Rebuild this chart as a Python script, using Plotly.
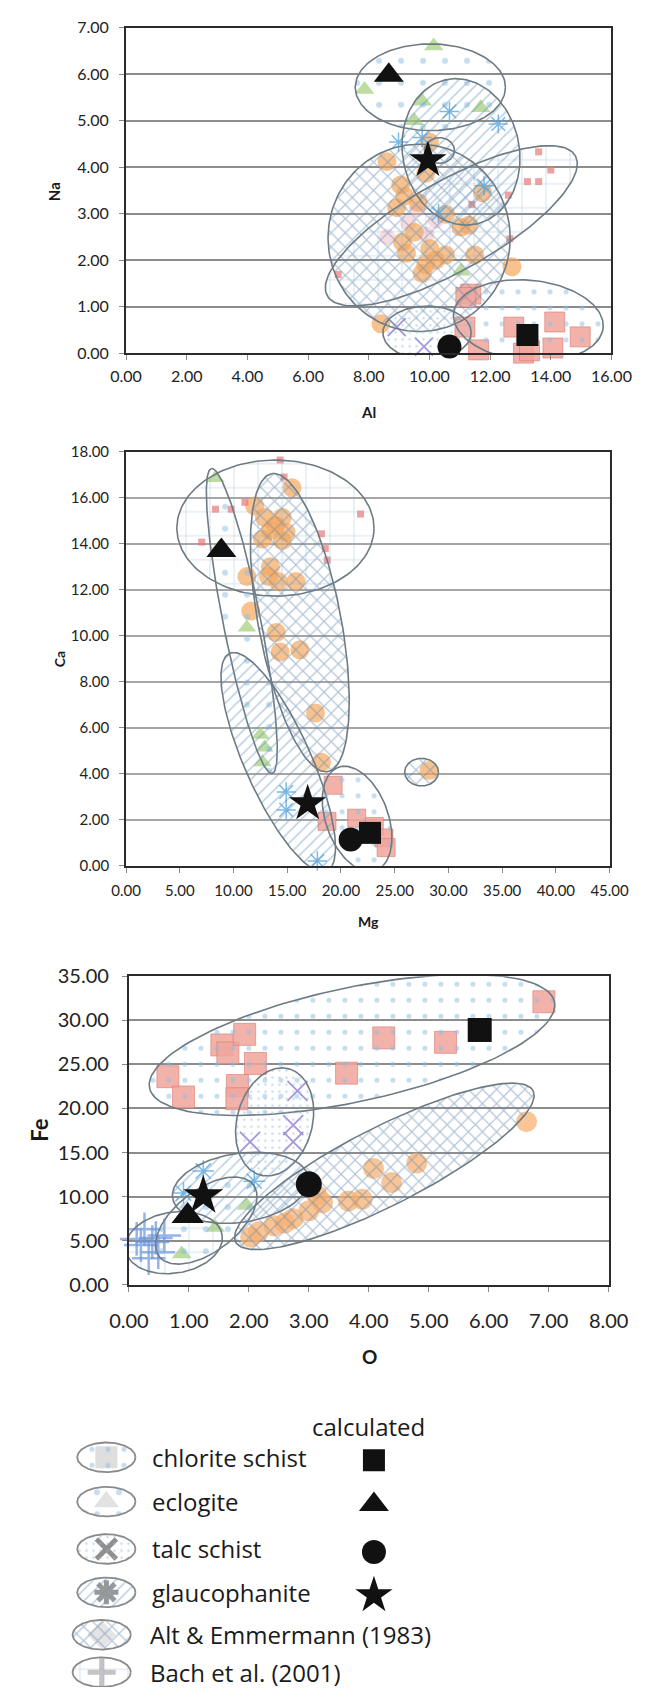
import numpy as np
import plotly.graph_objects as go

W, H = 654, 1698

# ---------------- chart 1 : Al vs Na ----------------
t_orange_x = [8.6, 10.0, 9.88, 9.05, 9.18, 8.92, 9.63, 10.53, 11.04, 11.3, 9.11, 9.24, 10.01, 10.53, 9.88, 9.76, 11.49, 11.75, 12.72, 8.4, 10.2, 9.5]
t_orange_y = [4.12, 4.54, 3.87, 3.62, 3.38, 3.13, 3.24, 2.99, 2.71, 2.75, 2.39, 2.15, 2.25, 2.11, 1.9, 1.72, 2.11, 3.45, 1.86, 0.63, 2.0, 2.6]
t_pinkc_x = [8.6, 9.3, 9.9, 10.2, 9.6]
t_pinkc_y = [2.5, 2.8, 2.55, 2.85, 3.1]
t_chl_x = [11.36, 11.17, 12.78, 14.13, 14.97, 14.07, 13.1, 11.62, 13.3, 11.2]
t_chl_y = [1.27, 0.56, 0.56, 0.67, 0.35, 0.11, 0.0, 0.07, 0.05, 1.2]
t_bach_x = [13.6, 14.0, 13.23, 13.6, 12.6, 6.99, 12.65, 11.4]
t_bach_y = [4.33, 3.94, 3.69, 3.69, 3.4, 1.69, 2.46, 3.2]
t_ecl_x = [10.14, 7.86, 9.76, 11.69, 9.5, 11.04]
t_ecl_y = [6.61, 5.67, 5.42, 5.28, 5.0, 1.76]
t_gla_x = [12.27, 8.98, 9.76, 10.66, 11.8, 10.3]
t_gla_y = [4.93, 4.54, 4.64, 5.2, 3.6, 3.0]
t_talc_x = [9.82, 8.92]
t_talc_y = [0.14, 0.56]
t_calc_x = [13.23, 8.66, 10.66, 9.95]   # square, triangle, circle, star
t_calc_y = [0.39, 5.98, 0.14, 4.15]
# region ellipses: group, centre x, centre y, semi-axes (px), angle (deg)
t_ell_grp = ["eclogite", "glaucophanite", "small", "alt", "bach", "chlorite", "talc"]
t_ell_cx = [10.03, 11.04, 10.33, 9.66, 10.72, 13.26, 9.92]
t_ell_cy = [5.72, 4.33, 4.36, 2.48, 2.74, 0.70, 0.44]
t_ell_a = [80, 75, 16, 97, 150, 80, 47]
t_ell_b = [44, 62, 13, 95, 46, 41, 27]
t_ell_ang = [0, 104, 0, 0, 28, -5, 0]

# ---------------- chart 2 : Mg vs Ca ----------------
m_orange_x = [15.44, 11.97, 12.88, 14.53, 13.43, 14.89, 12.7, 14.53, 11.24, 13.43, 14.16, 15.8, 13.25, 13.98, 14.34, 16.17, 11.6, 17.63, 18.18, 28.2, 13.9]
m_orange_y = [16.43, 15.64, 15.14, 15.14, 14.57, 14.5, 14.2, 14.14, 12.57, 13.0, 12.36, 12.36, 12.57, 10.14, 9.29, 9.39, 11.07, 6.64, 4.5, 4.14, 14.8]
m_ecl_x = [8.32, 8.69, 11.24, 12.5, 12.88, 12.7]
m_ecl_y = [16.86, 13.86, 10.36, 5.7, 5.14, 4.5]
m_bach_x = [14.34, 8.32, 11.06, 21.82, 18.18, 7.04, 18.54, 18.72, 9.78, 14.7]
m_bach_y = [17.64, 15.5, 15.8, 15.29, 14.43, 14.07, 13.79, 13.29, 15.5, 16.9]
m_chl_x = [19.27, 21.46, 23.1, 24.0, 24.2, 18.7]
m_chl_y = [3.5, 2.07, 1.71, 1.21, 0.79, 1.93]
m_gla_x = [14.9, 14.9, 17.8]
m_gla_y = [3.21, 2.43, 0.21]
m_calc_x = [22.7, 8.87, 20.9, 16.9]
m_calc_y = [1.43, 13.71, 1.14, 2.71]
m_ell_grp = ["bach", "eclogite", "alt", "glaucophanite", "chlorite", "alt"]
m_ell_cx = [13.9, 10.77, 16.17, 14.16, 21.5, 27.5]
m_ell_cy = [14.68, 10.64, 10.57, 4.5, 2.04, 4.07]
m_ell_a = [105, 158, 154, 122, 56, 18]
m_ell_b = [69, 20, 44, 35, 33, 14]
m_ell_ang = [0, 101.8, 101.3, 115.3, 112, 0]

# ---------------- chart 3 : O vs Fe ----------------
b_chl_x = [0.65, 0.91, 1.55, 1.65, 1.93, 2.11, 1.81, 1.8, 3.63, 4.25, 5.28, 6.92]
b_chl_y = [23.6, 21.3, 27.2, 26.3, 28.4, 25.1, 22.6, 21.1, 24.0, 28.0, 27.5, 32.1]
b_talc_x = [2.02, 2.74, 2.74, 2.81]
b_talc_y = [16.2, 18.1, 16.2, 22.0]
b_orange_x = [6.63, 4.08, 4.8, 4.38, 3.89, 3.66, 3.23, 3.0, 2.74, 2.42, 2.16, 2.03, 3.14, 2.6]
b_orange_y = [18.5, 13.2, 13.8, 11.6, 9.7, 9.5, 9.3, 8.4, 7.5, 6.7, 6.0, 5.4, 10.1, 7.0]
b_gla_x = [1.24, 0.91, 2.09]
b_gla_y = [12.9, 10.4, 11.75]
b_ecl_x = [1.44, 1.96, 0.88]
b_ecl_y = [6.5, 9.0, 3.5]
b_bach_x = [0.26, 0.39, 0.2, 0.49, 0.13, 0.59, 0.33, 0.45]
b_bach_y = [6.3, 4.85, 4.5, 3.7, 5.2, 5.6, 3.0, 5.3]
b_calc_x = [5.85, 0.98, 3.0, 1.24]
b_calc_y = [28.9, 7.8, 11.4, 10.1]
b_ell_grp = ["chlorite", "talc", "alt", "glaucophanite", "eclogite", "bach"]
b_ell_cx = [3.72, 2.43, 4.26, 1.86, 1.29, 0.75]
b_ell_cy = [27.2, 18.47, 13.43, 11.0, 7.28, 4.78]
b_ell_a = [220, 56, 176, 73, 62, 52]
b_ell_b = [58, 40, 40, 35, 32, 31]
b_ell_ang = [11.4, 73, 25.7, 8, 35, 8]

legend_labels = ["chlorite schist", "eclogite", "talc schist", "glaucophanite",
                 "Alt & Emmermann (1983)", "Bach et al. (2001)"]
legend_groups = ["chlorite", "eclogite", "talc", "glaucophanite", "alt", "bach"]
calc_symbols = ["square", "triangle-up", "circle", "star"]

# ---------------- layout geometry (pixels) ----------------
panels = [
    dict(x0=113, x1=630, y0=15, y1=345, xr=(0, 16), yr=(0, 7), dx=2, dy=1),
    dict(x0=113, x1=628, y0=445, y1=865, xr=(0, 45), yr=(0, 18), dx=5, dy=2),
    dict(x0=116, x1=627, y0=977, y1=1290, xr=(0, 8), yr=(0, 35), dx=1, dy=5),
]
for p in panels:
    p["sx"] = (p["x1"] - p["x0"]) / (p["xr"][1] - p["xr"][0])
    p["sy"] = (p["y1"] - p["y0"]) / (p["yr"][1] - p["yr"][0])

PAT = {
    "alt": dict(shape="x", size=10, solidity=0.22, fgcolor="#6489AE"),
    "bach": dict(shape="+", size=24, solidity=0.06, fgcolor="#86AED2"),
    "glaucophanite": dict(shape="/", size=8, solidity=0.18, fgcolor="#6A97C0"),
    "talc": dict(shape=".", size=7, solidity=0.1, fgcolor="#8DBBE0"),
    "chlorite": dict(shape=".", size=16, solidity=0.08, fgcolor="#8DBBE0"),
    "eclogite": dict(shape=".", size=22, solidity=0.06, fgcolor="#8DBBE0"),
    "small": None,
}
OUTLINE = "#6E7B83"

fig = go.Figure()


def ell_xy(cx, cy, a, b, ang, sx, sy, n=160):
    t = np.linspace(0, 2 * np.pi, n)
    th = np.radians(ang)
    dx = a * np.cos(t) * np.cos(th) - b * np.sin(t) * np.sin(th)
    dy = a * np.cos(t) * np.sin(th) + b * np.sin(t) * np.cos(th)
    return cx + dx / sx, cy + dy / sy


def add_ellipse(cx, cy, a, b, ang, sx, sy, grp, xa, ya, lw=1.6, color=OUTLINE):
    x, y = ell_xy(cx, cy, a, b, ang, sx, sy)
    pat = PAT.get(grp)
    kw = dict(x=x, y=y, mode="lines", line=dict(color=color, width=lw),
              xaxis=xa, yaxis=ya, hoverinfo="skip", cliponaxis=False)
    if pat:
        kw.update(fill="toself", fillcolor="rgba(255,255,255,0)",
                  fillpattern=dict(bgcolor="rgba(255,255,255,0)", **pat))
    fig.add_trace(go.Scatter(**kw))


def pts(x, y, xa, ya, symbol, size, color, line_color=None, line_w=0):
    fig.add_trace(go.Scatter(
        x=x, y=y, mode="markers", xaxis=xa, yaxis=ya, cliponaxis=False,
        hoverinfo="skip",
        marker=dict(symbol=symbol, size=size, color=color,
                    line=dict(color=line_color or color, width=line_w))))


ORANGE = "rgba(245,165,90,0.68)"
PINK_SQ = "rgba(240,165,155,0.85)"
PINK_SQ_LINE = "rgba(215,120,110,0.6)"
SMALL_SQ = "rgba(232,120,120,0.7)"
GREEN = "rgba(160,205,120,0.7)"
BLUE_AST = "rgba(90,170,225,0.8)"
PURPLE = "rgba(150,130,210,0.85)"
BACH_BLUE = "rgba(105,150,220,0.7)"

# ---- chart 1
xa, ya = "x", "y"
pts(t_pinkc_x, t_pinkc_y, xa, ya, "circle", 16, "rgba(240,185,195,0.5)")
pts(t_orange_x, t_orange_y, xa, ya, "circle", 19, ORANGE)
pts(t_chl_x, t_chl_y, xa, ya, "square", 20, PINK_SQ, PINK_SQ_LINE, 1)
pts(t_bach_x, t_bach_y, xa, ya, "square", 7, SMALL_SQ)
pts(t_ecl_x, t_ecl_y, xa, ya, "triangle-up", 17, GREEN)
pts(t_gla_x, t_gla_y, xa, ya, "asterisk-open", 16, BLUE_AST, BLUE_AST, 1.5)
pts(t_talc_x, t_talc_y, xa, ya, "x-thin-open", 18, PURPLE, PURPLE, 1.8)
p = panels[0]
for g, cx, cy, a, b, an in zip(t_ell_grp, t_ell_cx, t_ell_cy, t_ell_a, t_ell_b, t_ell_ang):
    add_ellipse(cx, cy, a, b, an, p["sx"], p["sy"], g, xa, ya)
for sx_, sy_, sym, sz in zip(t_calc_x, t_calc_y, calc_symbols, [22, 26, 24, 28]):
    pts([sx_], [sy_], xa, ya, sym, sz, "#111111")

# ---- chart 2
xa, ya = "x2", "y2"
pts(m_orange_x, m_orange_y, xa, ya, "circle", 19, ORANGE)
pts(m_bach_x, m_bach_y, xa, ya, "square", 7, SMALL_SQ)
pts(m_chl_x, m_chl_y, xa, ya, "square", 18, PINK_SQ, PINK_SQ_LINE, 1)
pts(m_ecl_x, m_ecl_y, xa, ya, "triangle-up", 16, GREEN)
pts(m_gla_x, m_gla_y, xa, ya, "asterisk-open", 16, BLUE_AST, BLUE_AST, 1.5)
p = panels[1]
for g, cx, cy, a, b, an in zip(m_ell_grp, m_ell_cx, m_ell_cy, m_ell_a, m_ell_b, m_ell_ang):
    add_ellipse(cx, cy, a, b, an, p["sx"], p["sy"], g, xa, ya)
for sx_, sy_, sym, sz in zip(m_calc_x, m_calc_y, calc_symbols, [22, 26, 24, 28]):
    pts([sx_], [sy_], xa, ya, sym, sz, "#111111")

# ---- chart 3
xa, ya = "x3", "y3"
pts(b_orange_x, b_orange_y, xa, ya, "circle", 21, "rgba(247,175,110,0.72)")
pts(b_chl_x, b_chl_y, xa, ya, "square", 22, PINK_SQ, PINK_SQ_LINE, 1)
pts(b_talc_x, b_talc_y, xa, ya, "x-thin-open", 20, PURPLE, PURPLE, 1.8)
pts(b_ecl_x, b_ecl_y, xa, ya, "triangle-up", 17, GREEN)
pts(b_gla_x, b_gla_y, xa, ya, "asterisk-open", 18, BLUE_AST, BLUE_AST, 1.5)
pts(b_bach_x, b_bach_y, xa, ya, "cross-thin-open", 24, BACH_BLUE, BACH_BLUE, 2.5)
p = panels[2]
for g, cx, cy, a, b, an in zip(b_ell_grp, b_ell_cx, b_ell_cy, b_ell_a, b_ell_b, b_ell_ang):
    add_ellipse(cx, cy, a, b, an, p["sx"], p["sy"], g, xa, ya)
for sx_, sy_, sym, sz in zip(b_calc_x, b_calc_y, calc_symbols, [24, 28, 26, 30]):
    pts([sx_], [sy_], xa, ya, sym, sz, "#111111")

# ---- legend panel (pixel coordinates)
LEG_TOP = 1400
row_y = [1465, 1510, 1558, 1602, 1645, 1683]
icon_x = [92, 92, 92, 92, 87, 87]
icon_sym = ["square", "triangle-up", "x-thin-open", "asterisk-open", "diamond", "cross-thin-open"]
icon_col = ["#dedede", "#e2e2e2", "#8f8f8f", "#999999", "#e4e4e4", "#c4c4c4"]
for i, g in enumerate(legend_groups):
    open_sym = icon_sym[i].endswith("open")
    pts([icon_x[i]], [row_y[i]], "x4", "y4", icon_sym[i], 22 if not open_sym else 20,
        icon_col[i], icon_col[i], 5 if open_sym else 0)
    add_ellipse(icon_x[i], row_y[i], 31, 15, 0, 1, 1, g, "x4", "y4", lw=1.8, color="#8a8a8a")
    fig.add_annotation(x=138 if i < 4 else 136, y=row_y[i], xref="x4", yref="y4",
                       text=legend_labels[i], showarrow=False, xanchor="left",
                       yanchor="middle", font=dict(family="Open Sans", size=24, color="#1a1a1a"))
for i, sym in enumerate(calc_symbols):
    pts([377], [row_y[i] + 3], "x4", "y4", sym, [22, 26, 24, 28][i], "#111111")
fig.add_annotation(x=371, y=1434, xref="x4", yref="y4", text="calculated", showarrow=False,
                   xanchor="center", yanchor="middle",
                   font=dict(family="Open Sans", size=24, color="#1a1a1a"))

# ---- axes
TICKFONT = [16, 15, 20]
axis_common = dict(showline=True, mirror=True, linecolor="#2b2b2b", linewidth=2,
                   ticks="outside", ticklen=5, tickcolor="#8a8a8a", tickformat=".2f",
                   zeroline=False)
grid_col = ["#8c8c8c", "#a6a6a6", "#8c8c8c"]
lay = {}
for i, p in enumerate(panels):
    sfx = "" if i == 0 else str(i + 1)
    xd = [p["x0"] / W, p["x1"] / W]
    yd = [1 - p["y1"] / H, 1 - p["y0"] / H]
    lay["xaxis" + sfx] = dict(domain=xd, range=list(p["xr"]), dtick=p["dx"], tick0=0,
                              showgrid=False, anchor="y" + sfx,
                              ticklabelstandoff=[3, 5, 12][i],
                              tickfont=dict(family="Lato", size=TICKFONT[i], color="#222"),
                              **axis_common)
    lay["yaxis" + sfx] = dict(domain=yd, range=list(p["yr"]), dtick=p["dy"], tick0=0,
                              showgrid=True, gridcolor=grid_col[i], gridwidth=1.5,
                              anchor="x" + sfx, ticklabelstandoff=[7, 7, 9][i],
                              tickfont=dict(family="Lato", size=TICKFONT[i], color="#222"),
                              **axis_common)
lay["xaxis4"] = dict(domain=[0, 1], range=[0, W], visible=False, anchor="y4")
lay["yaxis4"] = dict(domain=[0, 1 - LEG_TOP / H], range=[H, LEG_TOP], visible=False, anchor="x4")

fig.update_layout(width=W, height=H, margin=dict(l=0, r=0, t=0, b=0),
                  paper_bgcolor="white", plot_bgcolor="white", showlegend=False, **lay)

# axis titles
titles = [("Al", 371, 405, 0, 15), ("Na", 37, 181, -90, 15),
          ("Mg", 371, 922, 0, 14), ("Ca", 42, 655, -90, 14),
          ("O", 372, 1363, 0, 19), ("Fe", 21, 1133, -90, 22)]
for txt, px, py, rot, fs in titles:
    fig.add_annotation(x=px / W, y=1 - py / H, xref="paper", yref="paper", text="<b>%s</b>" % txt,
                       showarrow=False, textangle=rot, xanchor="center", yanchor="middle",
                       font=dict(family="Lato", size=fs, color="#1a1a1a"))

fig.write_html("out.html")
